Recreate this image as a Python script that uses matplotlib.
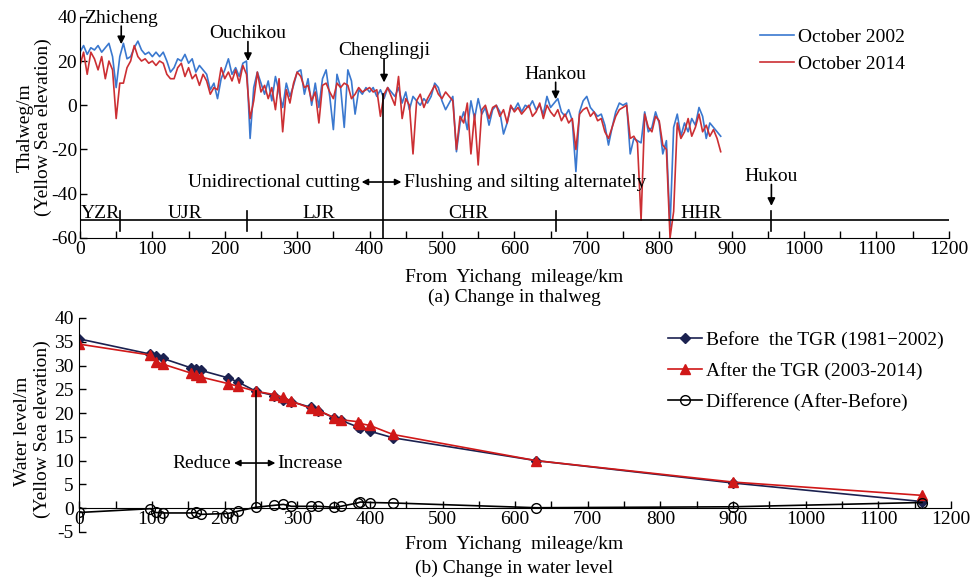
import numpy as np
import matplotlib.pyplot as plt

plt.rcParams['font.family'] = ['Liberation Serif', 'DejaVu Serif']
plt.rcParams['font.size'] = 14
plt.rcParams['axes.unicode_minus'] = False

# thalweg profile, sampled every 5 km from Yichang
mileage = np.arange(0, 890, 5)
thalweg_2002 = [
    24, 27, 23, 26, 25, 27, 24, 26, 28, 22,
    8, 22, 28, 21, 22, 26, 29, 25, 23, 24,
    22, 24, 22, 24, 20, 15, 17, 21, 20, 23,
    19, 21, 15, 18, 16, 14, 7, 10, 3, 12,
    16, 21, 14, 17, 13, 19, 20, -15, 8, 15,
    10, 5, 11, 2, 13, 6, -1, 10, 4, 9,
    15, 16, 5, 12, 0, 10, -1, 12, 16, 4,
    -11, 14, 8, -10, 16, 11, -4, 7, 5, 8,
    6, 8, 4, 7, 3, 8, 6, 4, 8, 1,
    6, -2, 4, 2, 0, 3, 1, 4, 10, 8,
    2, -2, 1, 4, -21, -8, -3, -11, 2, -6,
    3, -4, -1, -9, -2, 0, -3, -13, -8, -1,
    -2, 1, -3, 0, -1, 2, -2, 0, -4, 4,
    -1, 1, 3, -3, -5, -2, -7, -30, -3, 2,
    4, -1, -3, -5, -4, -9, -18, -10, -3, 1,
    0, 1, -22, -15, -16, -17, -3, -12, -10, -3,
    -8, -22, -16, -55, -10, -4, -14, -8, -12, -6,
    -9, -1, -5, -15, -8, -10, -12, -14,
]
thalweg_2014 = [
    18, 24, 14, 24, 21, 16, 22, 12, 20, 16,
    -6, 10, 10, 17, 20, 27, 22, 20, 21, 19,
    20, 18, 20, 19, 14, 12, 12, 17, 19, 13,
    17, 12, 14, 9, 14, 11, 5, 8, 7, 17,
    12, 15, 11, 16, 10, 18, 14, -6, 2, 15,
    6, 9, 3, 8, -2, 12, -12, 7, 1, 10,
    15, 13, 8, 9, 2, 6, -8, 9, 10, 6,
    3, 10, 8, 10, 9, 3, 5, 8, 6, 7,
    8, 6, 7, -5, 5, 8, 4, 0, 13, -6,
    3, 0, -22, 2, 5, -1, 3, 6, 9, 5,
    3, 6, 4, 2, -20, -5, -8, 1, -22, -4,
    -27, -2, 0, -6, -1, 0, -5, -2, -8, 0,
    -3, -1, -4, -2, 0, -5, -3, 1, -6, 0,
    -3, -5, -2, -7, -4, -8, -6, -20, -4, -2,
    -1, -5, -3, -7, -6, -12, -15, -10, -5, -2,
    -1, 0, -15, -14, -17, -52, -4, -10, -12, -5,
    -7, -18, -20, -60, -48, -8, -15, -12, -6, -14,
    -10, -4, -12, -9, -14, -11, -15, -21,
]

section_names = ['YZR', 'UJR', 'LJR', 'CHR', 'HHR']
section_label_km = [28, 145, 330, 536, 858]
section_bounds_km = [55, 231, 955, 657]
split_km = 418

stations = ['Zhicheng', 'Ouchikou', 'Chenglingji', 'Hankou']
station_arrow_km = [57, 232, 420, 657]
station_text_y = [39.4, 32.4, 24.6, 14.0]
station_tip_y = [27.6, 20.0, 10.3, 2.7]

# water level at gauging stations
gauge_km = [0, 98, 105, 115, 154, 161, 167, 205, 219, 243, 268, 281, 292,
            319, 329, 351, 360, 383, 387, 400, 432, 629, 900, 1160]
level_before = [35.6, 32.4, 32.0, 31.5, 29.5, 29.2, 29.0, 27.4, 26.5, 24.6,
                23.7, 22.7, 22.4, 21.2, 20.5, 19.0, 18.5, 17.1, 16.8, 16.2,
                14.8, 10.0, 5.3, 1.4]
level_after = [34.5, 32.2, 30.8, 30.3, 28.4, 28.1, 27.6, 26.2, 25.6, 24.6,
               23.9, 23.3, 22.5, 21.0, 20.6, 19.0, 18.6, 18.2, 17.8, 17.4,
               15.5, 10.0, 5.5, 2.7]
level_diff = [-0.9, -0.1, -0.9, -1.0, -1.0, -0.9, -1.3, -1.1, -0.6, 0.2,
              0.6, 0.8, 0.4, 0.4, 0.4, 0.2, 0.4, 1.1, 1.3, 1.2,
              1.1, 0.1, 0.3, 1.2]

blue = '#3a78cf'
red = '#cc2f33'

fig = plt.figure(figsize=(9.74, 5.79), dpi=100)
ax1 = fig.add_axes([0.0821, 0.589, 0.892, 0.382])
ax2 = fig.add_axes([0.0814, 0.0812, 0.895, 0.3696])

# ---- (a) thalweg
ax1.plot(mileage, thalweg_2002, color=blue, lw=1.2, label='October 2002')
ax1.plot(mileage, thalweg_2014, color=red, lw=1.2, label='October 2014')
ax1.set_xlim(0, 1200)
ax1.set_ylim(-60, 40)
ax1.set_xticks(np.arange(0, 1201, 100))
ax1.set_xticks(np.arange(50, 1200, 100), minor=True)
ax1.set_yticks([-60, -40, -20, 0, 20, 40])
for s in ['top', 'right']:
    ax1.spines[s].set_visible(False)
ax1.tick_params(direction='in', length=5, width=1, pad=2)
ax1.tick_params(which='minor', direction='in', length=5, width=1)

ax1.axhline(-52, color='k', lw=1.2)
for b in section_bounds_km:
    ax1.plot([b, b], [-56.8, -47.8], color='k', lw=1.2)
ax1.plot([split_km, split_km], [-60, 5], color='k', lw=1.2)
for name, xk in zip(section_names, section_label_km):
    ax1.text(xk, -49, name, ha='center', va='center')

for name, xk, ty, tip in zip(stations, station_arrow_km, station_text_y, station_tip_y):
    ax1.text(xk, ty, name, ha='center', va='center')
    ax1.annotate('', xy=(xk, tip), xytext=(xk, ty - 3.6),
                 arrowprops=dict(arrowstyle='-|>', color='k', lw=1.2,
                                 mutation_scale=11, shrinkA=0, shrinkB=0))
ax1.text(955, -32, 'Hukou', ha='center', va='center')
ax1.annotate('', xy=(955, -45.5), xytext=(955, -35.8),
             arrowprops=dict(arrowstyle='-|>', color='k', lw=1.2,
                             mutation_scale=11, shrinkA=0, shrinkB=0))

ax1.annotate('', xy=(389, -34.7), xytext=(444, -34.7),
             arrowprops=dict(arrowstyle='<|-|>', color='k', lw=1.2,
                             mutation_scale=9, shrinkA=0, shrinkB=0))
ax1.text(386, -34.7, 'Unidirectional cutting', ha='right', va='center')
ax1.text(447, -34.7, 'Flushing and silting alternately', ha='left', va='center')

ax1.legend(loc='upper left', bbox_to_anchor=(0.780, 0.951),
           bbox_transform=fig.transFigure, frameon=False,
           borderpad=0, borderaxespad=0,
           handlelength=1.75, handletextpad=0.2, labelspacing=0.47)

# ---- (b) water level
ax2.plot(gauge_km, level_before, color='#1b2150', lw=1.2, marker='D', ms=5,
         label='Before  the TGR (1981\u22122002)')
ax2.plot(gauge_km, level_after, color='#d01818', lw=1.2, marker='^', ms=7,
         label='After the TGR (2003-2014)')
ax2.plot(gauge_km, level_diff, color='k', lw=1.2, marker='o', ms=7, mfc='none',
         label='Difference (After-Before)')
ax2.set_xlim(0, 1200)
ax2.set_ylim(-5, 40)
ax2.set_xticks(np.arange(0, 1201, 100))
ax2.set_xticks(np.arange(50, 1200, 100), minor=True)
ax2.set_yticks(np.arange(-5, 41, 5))
for s in ['top', 'right']:
    ax2.spines[s].set_visible(False)
ax2.spines['bottom'].set_position(('data', 0))
ax2.tick_params(direction='in', length=5, width=1, pad=2)
ax2.tick_params(which='minor', direction='in', length=5, width=1)
ax2.tick_params(axis='y', pad=4)

ax2.plot([243, 243], [0, 24.6], color='k', lw=1.2)
ax2.annotate('', xy=(213, 9.5), xytext=(270, 9.5),
             arrowprops=dict(arrowstyle='<|-|>', color='k', lw=1.2,
                             mutation_scale=9, shrinkA=0, shrinkB=0))
ax2.text(209, 9.5, 'Reduce', ha='right', va='center')
ax2.text(272, 9.5, 'Increase', ha='left', va='center')

ax2.legend(loc='upper left', bbox_to_anchor=(0.686, 0.428),
           bbox_transform=fig.transFigure, frameon=False,
           borderpad=0, borderaxespad=0,
           handlelength=1.75, handletextpad=0.2, labelspacing=0.66)

# ---- axis titles and captions
fig.text(0.026, 0.78, 'Thalweg/m', rotation=90, ha='center', va='center')
fig.text(0.044, 0.78, '(Yellow Sea elevation)', rotation=90, ha='center',
         va='center')
fig.text(0.023, 0.255, 'Water level/m', rotation=90, ha='center', va='center')
fig.text(0.043, 0.258, '(Yellow Sea elevation)', rotation=90, ha='center',
         va='center')
fig.text(0.528, 0.521, 'From  Yichang  mileage/km', ha='center', va='center')
fig.text(0.528, 0.487, '(a) Change in thalweg', ha='center', va='center')
fig.text(0.528, 0.059, 'From  Yichang  mileage/km', ha='center', va='center')
fig.text(0.528, 0.019, '(b) Change in water level', ha='center', va='center')

fig.savefig('out.png', dpi=100)
